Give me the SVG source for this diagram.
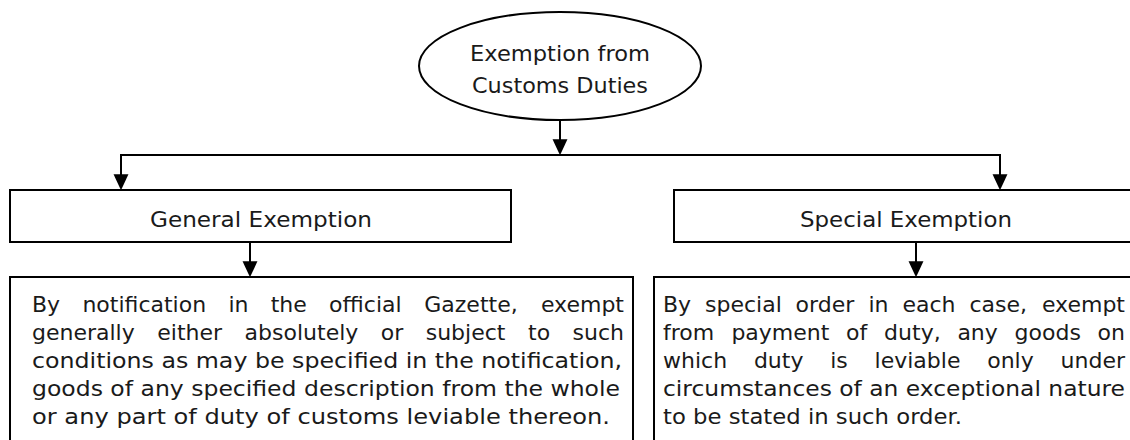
<svg xmlns="http://www.w3.org/2000/svg" width="1130" height="440" viewBox="0 0 1130 440">
  <defs>
    <style>
      .shape { fill: #ffffff; stroke: #000000; stroke-width: 2; }
      .conn { fill: none; stroke: #000000; stroke-width: 2; }
      text { font-family: "DejaVu Sans", "Liberation Sans", sans-serif; font-size: 22px; fill: #1a1a1a; }
      .c { text-anchor: middle; }
      .e { text-anchor: end; }
    </style>
    <marker id="arrow" markerUnits="userSpaceOnUse" markerWidth="16" markerHeight="16" viewBox="0 0 15 14" refX="11" refY="7" orient="auto">
      <path d="M0,0 L15,7 L0,14 Z" fill="#000000"/>
    </marker>
  </defs>
  <rect width="1130" height="440" fill="#ffffff"/>

  <g id="connectors">
    <path class="conn" d="M560 120 V151" marker-end="url(#arrow)"/>
    <path class="conn" d="M121 155 H1000"/>
    <path class="conn" d="M121 154 V186" marker-end="url(#arrow)"/>
    <path class="conn" d="M1000 154 V186" marker-end="url(#arrow)"/>
    <path class="conn" d="M250 242 V273" marker-end="url(#arrow)"/>
    <path class="conn" d="M916 242 V273" marker-end="url(#arrow)"/>
  </g>

  <g id="root">
    <ellipse class="shape" cx="560" cy="66" rx="141" ry="54"/>
    <text class="c" x="560" y="61" textLength="180" lengthAdjust="spacingAndGlyphs">Exemption from</text>
    <text class="c" x="560" y="93" textLength="176" lengthAdjust="spacingAndGlyphs">Customs Duties</text>
  </g>

  <g id="general">
    <rect class="shape" x="10" y="190" width="501" height="52"/>
    <text class="c" x="261" y="227" textLength="222" lengthAdjust="spacingAndGlyphs">General Exemption</text>
  </g>

  <g id="special">
    <rect class="shape" x="674" y="190" width="470" height="52"/>
    <text class="c" x="906" y="227" textLength="212" lengthAdjust="spacingAndGlyphs">Special Exemption</text>
  </g>

  <g id="general-desc">
    <rect class="shape" x="10" y="277" width="623" height="200"/>
    <text x="32" y="312">By</text>
    <text x="82.4" y="312">notification</text>
    <text x="228.4" y="312">in</text>
    <text x="270.7" y="312">the</text>
    <text x="329.1" y="312">official</text>
    <text x="424.3" y="312">Gazette,</text>
    <text class="e" x="624" y="312">exempt</text>

    <text x="32" y="340">generally</text>
    <text x="157.3" y="340">either</text>
    <text x="244.6" y="340">absolutely</text>
    <text x="380.7" y="340">or</text>
    <text x="425.7" y="340">subject</text>
    <text x="528" y="340">to</text>
    <text class="e" x="624" y="340">such</text>

    <text x="32" y="368" textLength="590" lengthAdjust="spacingAndGlyphs">conditions as may be specified in the notification,</text>
    <text x="32" y="396" textLength="588" lengthAdjust="spacingAndGlyphs">goods of any specified description from the whole</text>
    <text x="32" y="424" textLength="578" lengthAdjust="spacingAndGlyphs">or any part of duty of customs leviable thereon.</text>
  </g>

  <g id="special-desc">
    <rect class="shape" x="654" y="277" width="490" height="200"/>
    <text x="663" y="312">By</text>
    <text x="705" y="312">special</text>
    <text x="795.6" y="312">order</text>
    <text x="868.5" y="312">in</text>
    <text x="902.5" y="312">each</text>
    <text x="969.5" y="312">case,</text>
    <text class="e" x="1125" y="312">exempt</text>

    <text x="663" y="340">from</text>
    <text x="731.4" y="340">payment</text>
    <text x="846.1" y="340">of</text>
    <text x="884.1" y="340">duty,</text>
    <text x="957.4" y="340">any</text>
    <text x="1014.6" y="340">goods</text>
    <text class="e" x="1125" y="340">on</text>

    <text x="663" y="368">which</text>
    <text x="753.9" y="368">duty</text>
    <text x="830.2" y="368">is</text>
    <text x="874.6" y="368">leviable</text>
    <text x="987.2" y="368">only</text>
    <text class="e" x="1125" y="368">under</text>

    <text x="663" y="396" textLength="462" lengthAdjust="spacingAndGlyphs">circumstances of an exceptional nature</text>
    <text x="663" y="424" textLength="299" lengthAdjust="spacingAndGlyphs">to be stated in such order.</text>
  </g>
</svg>
